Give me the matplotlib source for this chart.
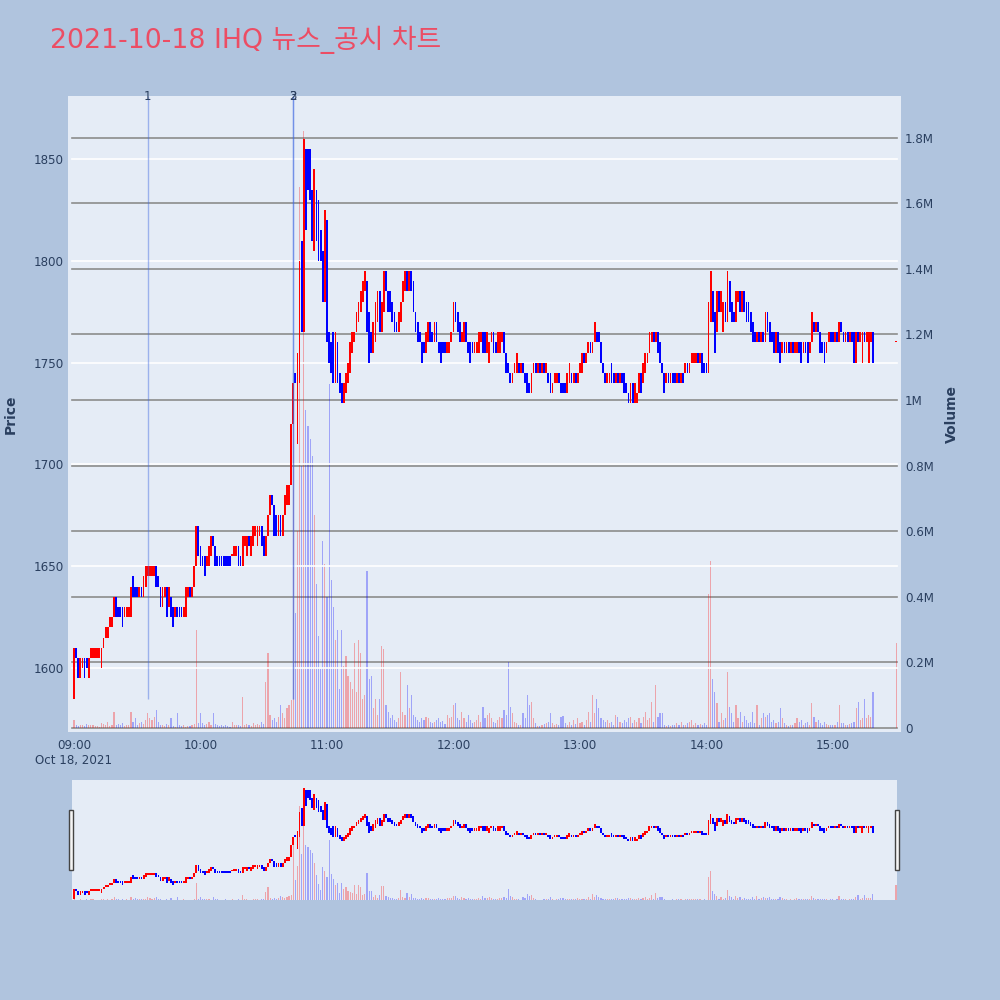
import matplotlib
matplotlib.use('Agg')
import matplotlib.pyplot as plt
import matplotlib.transforms as mtransforms
from matplotlib.patches import Rectangle
import numpy as np

plt.rcParams['font.family'] = ['DejaVu Sans', 'Noto Sans CJK KR']

# ---- data (1-minute bars, 09:00 ~ 15:19, plus the 15:30 closing auction) ----
title = '2021-10-18 IHQ 뉴스_공시 차트'
minutes = list(range(380)) + [390]

opens = [
    1585, 1610, 1605, 1595, 1600, 1605, 1605, 1595, 1605, 1605,
    1605, 1605, 1605, 1600, 1610, 1615, 1615, 1620, 1620, 1625,
    1635, 1630, 1630, 1630, 1625, 1625, 1625, 1625, 1645, 1640,
    1640, 1635, 1640, 1635, 1640, 1645, 1645, 1645, 1645, 1650,
    1645, 1640, 1630, 1635, 1640, 1630, 1635, 1630, 1625, 1630,
    1630, 1630, 1625, 1625, 1635, 1640, 1635, 1640, 1650, 1670,
    1660, 1655, 1655, 1650, 1650, 1655, 1665, 1660, 1655, 1655,
    1655, 1655, 1655, 1655, 1655, 1655, 1655, 1655, 1660, 1655,
    1650, 1660, 1655, 1665, 1655, 1660, 1665, 1660, 1665, 1670,
    1665, 1655, 1665, 1675, 1685, 1680, 1675, 1665, 1675, 1665,
    1675, 1680, 1680, 1690, 1720, 1745, 1710, 1740, 1810, 1765,
    1855, 1855, 1855, 1835, 1805, 1835, 1830, 1815, 1805, 1780,
    1820, 1765, 1760, 1765, 1740, 1760, 1745, 1740, 1730, 1735,
    1740, 1745, 1755, 1760, 1765, 1770, 1775, 1780, 1785, 1790,
    1775, 1765, 1755, 1760, 1770, 1785, 1765, 1775, 1795, 1785,
    1785, 1780, 1775, 1770, 1765, 1770, 1780, 1785, 1795, 1785,
    1795, 1790, 1775, 1770, 1765, 1760, 1760, 1755, 1760, 1770,
    1765, 1760, 1770, 1760, 1760, 1760, 1760, 1755, 1755, 1760,
    1765, 1780, 1775, 1770, 1760, 1760, 1770, 1760, 1760, 1760,
    1755, 1755, 1755, 1760, 1765, 1765, 1755, 1750, 1760, 1765,
    1760, 1755, 1755, 1760, 1765, 1755, 1750, 1745, 1740, 1745,
    1745, 1750, 1745, 1750, 1745, 1745, 1740, 1735, 1745, 1750,
    1745, 1750, 1745, 1750, 1745, 1745, 1745, 1735, 1740, 1740,
    1745, 1740, 1740, 1740, 1735, 1740, 1745, 1740, 1745, 1740,
    1745, 1745, 1755, 1750, 1755, 1760, 1755, 1760, 1765, 1765,
    1760, 1750, 1745, 1740, 1740, 1750, 1745, 1740, 1745, 1740,
    1745, 1745, 1740, 1735, 1730, 1740, 1730, 1730, 1735, 1745,
    1740, 1745, 1750, 1755, 1760, 1765, 1760, 1765, 1760, 1750,
    1745, 1740, 1745, 1740, 1745, 1745, 1740, 1745, 1740, 1745,
    1745, 1750, 1745, 1750, 1750, 1750, 1755, 1750, 1755, 1750,
    1750, 1745, 1770, 1785, 1775, 1765, 1785, 1775, 1765, 1780,
    1770, 1790, 1780, 1775, 1770, 1780, 1785, 1775, 1785, 1780,
    1780, 1775, 1770, 1765, 1760, 1765, 1760, 1765, 1760, 1775,
    1770, 1765, 1765, 1755, 1765, 1760, 1755, 1760, 1755, 1760,
    1755, 1760, 1755, 1755, 1760, 1760, 1755, 1760, 1760, 1755,
    1760, 1770, 1765, 1770, 1765, 1760, 1760, 1755, 1760, 1765,
    1765, 1760, 1765, 1760, 1770, 1765, 1760, 1765, 1760, 1765,
    1765, 1750, 1765, 1760, 1750, 1765, 1760, 1750, 1760, 1765,
    1760,
]

closes = [
    1610, 1605, 1595, 1605, 1605, 1595, 1600, 1605, 1610, 1610,
    1610, 1610, 1610, 1610, 1615, 1620, 1620, 1625, 1625, 1635,
    1625, 1625, 1625, 1620, 1630, 1630, 1630, 1640, 1635, 1635,
    1635, 1640, 1635, 1645, 1650, 1650, 1650, 1650, 1650, 1640,
    1640, 1630, 1640, 1640, 1625, 1640, 1625, 1620, 1630, 1625,
    1625, 1625, 1630, 1640, 1640, 1635, 1640, 1650, 1670, 1655,
    1650, 1650, 1645, 1655, 1660, 1665, 1660, 1650, 1650, 1650,
    1650, 1650, 1650, 1650, 1650, 1655, 1660, 1660, 1650, 1650,
    1665, 1665, 1665, 1660, 1665, 1670, 1670, 1670, 1670, 1660,
    1655, 1665, 1675, 1685, 1680, 1665, 1665, 1675, 1665, 1675,
    1685, 1690, 1690, 1720, 1740, 1740, 1755, 1800, 1765, 1860,
    1815, 1835, 1830, 1810, 1845, 1810, 1800, 1800, 1780, 1825,
    1760, 1750, 1745, 1740, 1765, 1740, 1735, 1730, 1740, 1745,
    1750, 1760, 1765, 1765, 1775, 1780, 1785, 1790, 1795, 1765,
    1750, 1755, 1770, 1780, 1785, 1765, 1780, 1795, 1785, 1775,
    1775, 1770, 1765, 1765, 1775, 1780, 1790, 1795, 1785, 1795,
    1785, 1775, 1765, 1760, 1760, 1750, 1755, 1765, 1770, 1760,
    1760, 1770, 1760, 1755, 1750, 1755, 1755, 1760, 1760, 1765,
    1780, 1770, 1765, 1760, 1765, 1770, 1760, 1755, 1750, 1755,
    1760, 1760, 1765, 1765, 1755, 1755, 1765, 1760, 1765, 1755,
    1755, 1765, 1765, 1765, 1755, 1745, 1745, 1740, 1745, 1750,
    1755, 1745, 1750, 1745, 1740, 1735, 1735, 1745, 1750, 1745,
    1750, 1745, 1750, 1745, 1750, 1740, 1735, 1740, 1745, 1745,
    1740, 1735, 1735, 1735, 1745, 1750, 1740, 1745, 1740, 1745,
    1750, 1755, 1750, 1755, 1760, 1755, 1760, 1770, 1760, 1760,
    1750, 1745, 1740, 1745, 1745, 1740, 1740, 1745, 1740, 1745,
    1740, 1735, 1735, 1730, 1740, 1730, 1740, 1735, 1745, 1735,
    1750, 1755, 1755, 1765, 1765, 1760, 1765, 1755, 1750, 1745,
    1735, 1745, 1740, 1745, 1740, 1740, 1745, 1740, 1745, 1740,
    1750, 1745, 1750, 1755, 1755, 1755, 1750, 1755, 1745, 1745,
    1745, 1780, 1795, 1770, 1755, 1785, 1775, 1785, 1780, 1770,
    1795, 1775, 1770, 1770, 1785, 1785, 1775, 1785, 1775, 1770,
    1770, 1765, 1760, 1760, 1765, 1760, 1765, 1760, 1775, 1765,
    1760, 1760, 1755, 1765, 1755, 1750, 1760, 1755, 1760, 1755,
    1760, 1755, 1760, 1760, 1755, 1750, 1760, 1755, 1750, 1760,
    1775, 1765, 1770, 1765, 1755, 1755, 1750, 1760, 1765, 1760,
    1760, 1765, 1760, 1770, 1765, 1760, 1765, 1760, 1765, 1760,
    1750, 1765, 1760, 1765, 1765, 1760, 1765, 1765, 1765, 1750,
    1760,
]

# volume in thousand shares
volumes_k = [
    25, 8, 5, 10, 8, 6, 12, 8, 10, 10,
    5, 6, 3, 15, 12, 8, 20, 6, 10, 50,
    10, 12, 8, 15, 6, 10, 8, 50, 20, 30,
    10, 15, 20, 12, 25, 45, 30, 25, 35, 55,
    20, 10, 8, 5, 12, 8, 30, 6, 4, 45,
    8, 5, 10, 4, 6, 5, 8, 12, 300, 15,
    45, 15, 10, 12, 20, 8, 45, 12, 10, 6,
    8, 6, 10, 5, 4, 20, 8, 8, 10, 6,
    95, 10, 12, 8, 6, 15, 10, 12, 8, 20,
    12, 140, 230, 40, 25, 30, 20, 35, 70, 45,
    30, 60, 70, 85, 1050, 350, 600, 1650, 800, 1820,
    970, 920, 880, 830, 650, 440, 280, 180, 570, 500,
    400, 1050, 450, 370, 270, 300, 120, 300, 190, 220,
    160, 140, 120, 260, 110, 270, 230, 90, 100, 480,
    150, 160, 60, 90, 40, 90, 250, 240, 70, 50,
    30, 40, 25, 20, 30, 170, 50, 40, 130, 60,
    100, 40, 35, 25, 20, 30, 25, 35, 30, 20,
    15, 20, 25, 30, 18, 22, 12, 40, 30, 35,
    70, 75, 30, 25, 50, 30, 20, 40, 25, 15,
    20, 25, 40, 20, 65, 30, 40, 45, 30, 20,
    15, 25, 35, 30, 55, 40, 200, 65, 45, 20,
    15, 10, 8, 45, 30, 100, 70, 80, 30, 15,
    5, 5, 8, 12, 15, 20, 45, 15, 8, 12,
    10, 35, 38, 15, 10, 20, 10, 25, 12, 30,
    15, 20, 10, 25, 50, 20, 100, 45, 90, 60,
    30, 25, 20, 25, 15, 20, 10, 40, 35, 20,
    15, 25, 20, 30, 35, 15, 25, 20, 30, 15,
    35, 50, 25, 30, 80, 20, 130, 35, 45, 45,
    10, 5, 8, 5, 10, 8, 15, 10, 20, 8,
    10, 15, 20, 25, 10, 15, 10, 12, 8, 15,
    8, 410, 510, 150, 110, 75, 20, 45, 25, 30,
    170, 65, 45, 20, 70, 30, 50, 20, 38, 25,
    15, 20, 50, 15, 70, 10, 30, 45, 35, 40,
    45, 20, 25, 15, 20, 60, 30, 15, 10, 5,
    10, 8, 15, 30, 20, 25, 10, 15, 20, 10,
    75, 35, 20, 25, 15, 10, 20, 12, 8, 10,
    10, 8, 20, 70, 15, 15, 10, 8, 12, 15,
    20, 60, 80, 25, 30, 90, 30, 40, 35, 110,
    260,
]

# news / disclosure events (minutes after 09:00)
event_labels = ['1', '2', '3']
event_minutes = [35, 104, 104]
event_bottom = 1585

tick_minutes = [0, 60, 120, 180, 240, 300, 360]
tick_labels = ['09:00\nOct 18, 2021', '10:00', '11:00', '12:00', '13:00', '14:00', '15:00']
price_ticks = [1600, 1650, 1700, 1750, 1800, 1850]
volume_ticks = [0, 0.2e6, 0.4e6, 0.6e6, 0.8e6, 1.0e6, 1.2e6, 1.4e6, 1.6e6, 1.8e6]
volume_tick_labels = ['0', '0.2M', '0.4M', '0.6M', '0.8M', '1M', '1.2M', '1.4M', '1.6M', '1.8M']

BG = '#B0C4DE'
PLOT_BG = '#E5ECF6'
TXT = '#2a3f5f'
UP = '#FF0000'
DOWN = '#0000FF'

x = np.array(minutes, dtype=float)
o = np.array(opens, dtype=float)
c = np.array(closes, dtype=float)
vol = np.array(volumes_k, dtype=float) * 1000
up = c >= o
candle_colors = np.where(up, UP, DOWN)
vol_colors = [(1, 0, 0, 0.3) if u else (0, 0, 1, 0.3) for u in up]

GRID_L, GRID_R = 0.005, 0.995   # grid lines stop a few px short of the plot edge


def draw_candles(ax, min_h):
    bottom = np.minimum(o, c)
    height = np.maximum(np.abs(c - o), min_h)
    ax.bar(x, height, bottom=bottom, width=0.85, color=candle_colors, linewidth=0, zorder=3)


def clean(ax):
    for s in ax.spines.values():
        s.set_visible(False)


fig = plt.figure(figsize=(10, 10), dpi=100, facecolor=BG)

# ---- main chart: volume underneath, price on a twin axis ----
ax_v = fig.add_axes([0.068, 0.268, 0.833, 0.636])
ax_v.set_facecolor(PLOT_BG)
ax_v.bar(x, vol, width=0.55, color=vol_colors, linewidth=0, zorder=2)
ax_v.set_ylim(-0.012e6, 1.927e6)
ax_v.set_xlim(-2.85, 392.3)
ax_v.set_xticks(tick_minutes)
ax_v.set_xticklabels(tick_labels)
ax_v.tick_params(axis='x', length=0, pad=5, labelsize=8.6, labelcolor=TXT)
clean(ax_v)

ax_p = ax_v.twinx()
ax_p.patch.set_visible(False)

# twinx moves the original ticks to the left, so set sides afterwards
ax_v.yaxis.tick_right()
ax_v.set_yticks(volume_ticks)
ax_v.set_yticklabels(volume_tick_labels)
ax_v.tick_params(axis='y', length=0, pad=3, labelsize=8.6, labelcolor=TXT)
for t in volume_ticks:
    ax_v.axhline(t, GRID_L, GRID_R, color='#8c8c8c', linewidth=1.2, zorder=1)

ax_p.yaxis.tick_left()
ax_p.set_ylim(1568.6, 1881)
ax_p.set_yticks(price_ticks)
ax_p.tick_params(axis='y', length=0, pad=3, labelsize=8.6, labelcolor=TXT)
for t in price_ticks:
    ax_p.axhline(t, GRID_L, GRID_R, color='white', linewidth=1.2, zorder=1)
draw_candles(ax_p, 0.8)
clean(ax_p)

trans = mtransforms.blended_transform_factory(ax_p.transData, ax_p.transAxes)
for lab, m in zip(event_labels, event_minutes):
    ax_p.vlines(m, event_bottom, 1881, colors='#4169E1', alpha=0.45, linewidth=1, zorder=4)
    ax_p.text(m, 1.0, lab, transform=trans, ha='center', va='center',
              fontsize=8.5, color=TXT, zorder=5)

fig.text(0.011, 0.586, 'Price', rotation=90, ha='center', va='center',
         fontsize=10, fontweight='bold', color=TXT)
fig.text(0.952, 0.586, 'Volume', rotation=90, ha='center', va='center',
         fontsize=10, fontweight='bold', color=TXT)
fig.text(0.05, 0.96, title, ha='left', va='center', fontsize=19.3, color='#EC4D64')

# ---- range slider ----
ax_s = fig.add_axes([0.072, 0.100, 0.825, 0.120])
ax_s.set_facecolor(PLOT_BG)
ax_s.bar(x, vol, width=0.55, color=vol_colors, linewidth=0)
ax_s.set_ylim(0, 2.1e6)
ax_s.set_xlim(-1, 390.5)
ax_s.set_xticks([])
clean(ax_s)
ax_s2 = ax_s.twinx()
ax_s2.set_ylim(1583, 1880)
ax_s2.set_yticks([])
ax_s.set_yticks([])
draw_candles(ax_s2, 2.0)
clean(ax_s2)

for hx in (0.069, 0.895):
    fig.patches.append(Rectangle((hx, 0.130), 0.004, 0.060, transform=fig.transFigure,
                                 facecolor='#f5f5f5', edgecolor='#444444', linewidth=1))

fig.savefig('out.png', dpi=100, facecolor=BG)
